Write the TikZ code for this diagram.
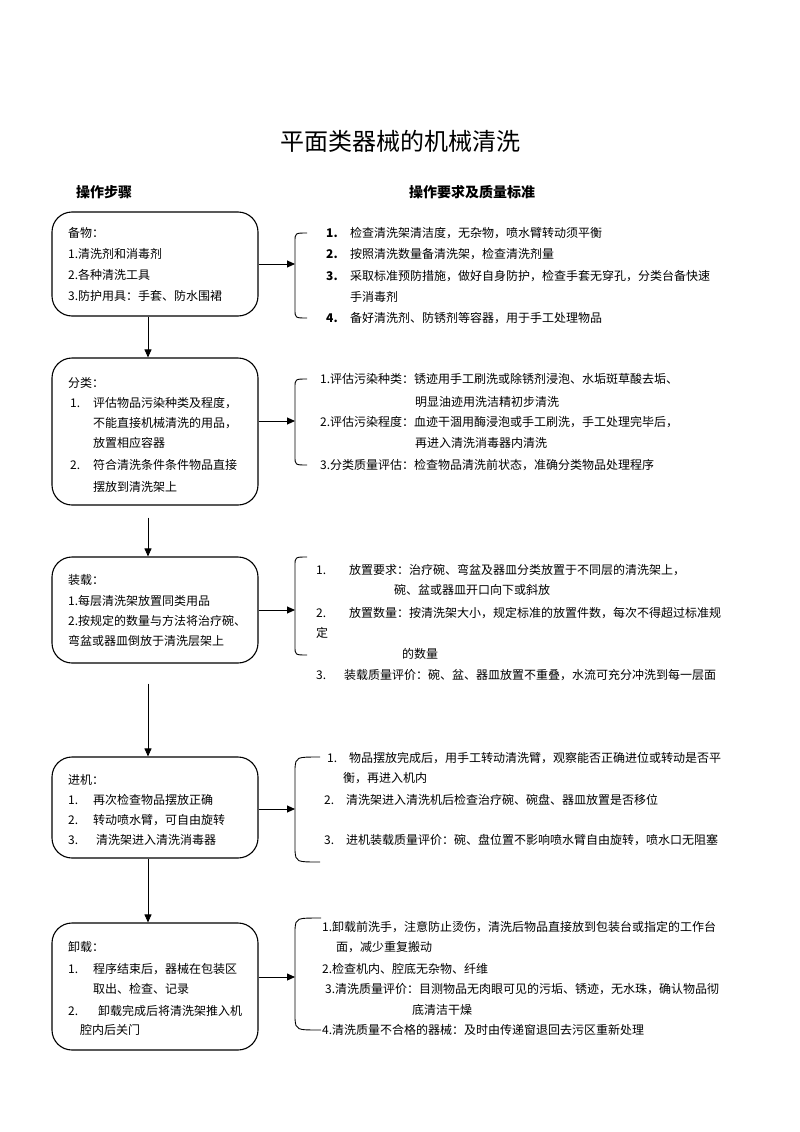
\documentclass[tikz,border=0pt]{standalone}
\usepackage{fontspec}
\setmainfont{Noto Sans CJK SC}
\usetikzlibrary{arrows.meta}
\begin{document}
\begin{tikzpicture}[x=1pt,y=-1pt,
 stepbox/.style={draw, line width=1.1pt, rounded corners=20pt, minimum width=206pt, inner sep=0pt},
 t/.style={anchor=west, inner sep=0pt, font=\fontsize{12}{14}\selectfont},
 num/.style={anchor=west, inner sep=0pt, font=\fontsize{12}{14}\selectfont\bfseries},
 arr/.style={-{Triangle[length=8pt,width=7pt]}, line width=0.9pt},
 brc/.style={line width=0.9pt},
 hdr/.style={anchor=west, inner sep=0pt, font=\fontsize{14}{16}\selectfont\bfseries},
 ttl/.style={inner sep=0pt, font=\fontsize{24}{28}\selectfont}]
\useasboundingbox[fill=white] (0,0) rectangle (800,1132);

% title and headers
\node[ttl] (title) at (400,141) {平面类器械的机械清洗};
\node[hdr] (h1) at (76,192) {操作步骤};
\node[hdr] (h2) at (409,192) {操作要求及质量标准};

% step boxes
\node[stepbox, minimum height=104pt] (b1) at (155,264) {};
\node[stepbox, minimum height=147pt] (b2) at (155,431.5) {};
\node[stepbox, minimum height=106pt] (b3) at (155,610) {};
\node[stepbox, minimum height=101pt] (b4) at (155,807.5) {};
\node[stepbox, minimum height=127pt] (b5) at (155,986.5) {};

% vertical arrows
\draw[arr] ([xshift=-7pt]b1.south) -- ([xshift=-7pt]b2.north);
\draw[arr, shorten <=12pt] ([xshift=-7pt]b2.south) -- ([xshift=-7pt]b3.north);
\draw[arr, shorten <=20pt] ([xshift=-7pt]b3.south) -- ([xshift=-7pt]b4.north);
\draw[arr] ([xshift=-7pt]b4.south) -- ([xshift=-7pt]b5.north);

% braces
\draw[brc] (307,233) .. controls (295,233) .. (295,242) -- (295,309) .. controls (295,318) .. (307,318);
\draw[brc] (307,379) .. controls (295,379) .. (295,388) -- (295,456) .. controls (295,465) .. (307,465);
\draw[brc] (307,557) .. controls (295,557) .. (295,566) -- (295,646) .. controls (295,655) .. (307,655);
\draw[brc] (320,757) .. controls (296,757) .. (295,768) -- (295,851) .. controls (296,862) .. (320,862);
\draw[brc] (321,918) .. controls (296,918) .. (295,929) -- (295,1019) .. controls (296,1030) .. (321,1030);

\coordinate (r1) at (295,264);
\coordinate (r2) at (295,421);
\coordinate (r3) at (295,610);
\coordinate (r4) at (295,809);
\coordinate (r5) at (295,977);
\draw[arr] (b1.east |- r1) -- (r1);
\draw[arr] (b2.east |- r2) -- (r2);
\draw[arr] (b3.east |- r3) -- (r3);
\draw[arr] (b4.east |- r4) -- (r4);
\draw[arr] (b5.east |- r5) -- (r5);

% box 1 text
\node[t] (b1t0) at (68,233) {备物：};
\node[t] (b1t1) at (68,254) {1.清洗剂和消毒剂};
\node[t] (b1t2) at (68,275) {2.各种清洗工具};
\node[t] (b1t3) at (68,296) {3.防护用具：手套、防水围裙};
% right 1
\node[num] (n11) at (326,233) {1.};
\node[t] (r11) at (350,233) {检查清洗架清洁度，无杂物，喷水臂转动须平衡};
\node[num] (n12) at (326,254) {2.};
\node[t] (r12) at (350,254) {按照清洗数量备清洗架，检查清洗剂量};
\node[num] (n13) at (326,276) {3.};
\node[t] (r13) at (350,276) {采取标准预防措施，做好自身防护，检查手套无穿孔，分类台备快速};
\node[t] (r13b) at (350,297) {手消毒剂};
\node[num] (n14) at (326,318) {4.};
\node[t] (r14) at (350,318) {备好清洗剂、防锈剂等容器，用于手工处理物品};

% box 2 text
\node[t] (b2t0) at (68,383) {分类：};
\node[t] (b2n1) at (70,403) {1.};
\node[t] (b2t1) at (93,403) {评估物品污染种类及程度，};
\node[t] (b2t2) at (93,423) {不能直接机械清洗的用品，};
\node[t] (b2t3) at (93,443) {放置相应容器};
\node[t] (b2n2) at (70,465) {2.};
\node[t] (b2t4) at (93,465) {符合清洗条件条件物品直接};
\node[t] (b2t5) at (93,487) {摆放到清洗架上};
% right 2
\node[t] (r21) at (320,379) {1.评估污染种类：锈迹用手工刷洗或除锈剂浸泡、水垢斑草酸去垢、};
\node[t] (r21b) at (415,402) {明显油迹用洗洁精初步清洗};
\node[t] (r22) at (320,422) {2.评估污染程度：血迹干涸用酶浸泡或手工刷洗，手工处理完毕后，};
\node[t] (r22b) at (415,443) {再进入清洗消毒器内清洗};
\node[t] (r23) at (320,465) {3.分类质量评估：检查物品清洗前状态，准确分类物品处理程序};

% box 3 text
\node[t] (b3t0) at (68,580) {装载：};
\node[t] (b3t1) at (68,601) {1.每层清洗架放置同类用品};
\node[t] (b3t2) at (68,621) {2.按规定的数量与方法将治疗碗、};
\node[t] (b3t3) at (68,641) {弯盆或器皿倒放于清洗层架上};
% right 3
\node[t] (n31) at (316,570) {1.};
\node[t] (r31) at (349,570) {放置要求：治疗碗、弯盆及器皿分类放置于不同层的清洗架上，};
\node[t] (r31b) at (394,590) {碗、盆或器皿开口向下或斜放};
\node[t] (n32) at (316,613) {2.};
\node[t] (r32) at (349,613) {放置数量：按清洗架大小，规定标准的放置件数，每次不得超过标准规};
\node[t] (r32b) at (316,633) {定};
\node[t] (r32c) at (402,654) {的数量};
\node[t] (n33) at (316,675) {3.};
\node[t] (r33) at (344,675) {装载质量评价：碗、盆、器皿放置不重叠，水流可充分冲洗到每一层面};

% box 4 text
\node[t] (b4t0) at (68,780) {进机：};
\node[t] (b4n1) at (68,800) {1.};
\node[t] (b4t1) at (93,800) {再次检查物品摆放正确};
\node[t] (b4n2) at (68,820) {2.};
\node[t] (b4t2) at (93,820) {转动喷水臂，可自由旋转};
\node[t] (b4n3) at (68,840) {3.};
\node[t] (b4t3) at (96,840) {清洗架进入清洗消毒器};
% right 4
\node[t] (n41) at (327,758) {1.};
\node[t] (r41) at (349,758) {物品摆放完成后，用手工转动清洗臂，观察能否正确进位或转动是否平};
\node[t] (r41b) at (343,778) {衡，再进入机内};
\node[t] (n42) at (324,800) {2.};
\node[t] (r42) at (346,800) {清洗架进入清洗机后检查治疗碗、碗盘、器皿放置是否移位};
\node[t] (n43) at (324,840) {3.};
\node[t] (r43) at (346,840) {进机装载质量评价：碗、盘位置不影响喷水臂自由旋转，喷水口无阻塞};

% box 5 text
\node[t] (b5t0) at (68,947) {卸载：};
\node[t] (b5n1) at (68,969) {1.};
\node[t] (b5t1) at (93,969) {程序结束后，器械在包装区};
\node[t] (b5t2) at (93,989) {取出、检查、记录};
\node[t] (b5n2) at (68,1011) {2.};
\node[t] (b5t3) at (98,1011) {卸载完成后将清洗架推入机};
\node[t] (b5t4) at (80,1030) {腔内后关门};
% right 5
\node[t] (r51) at (322,927) {1.卸载前洗手，注意防止烫伤，清洗后物品直接放到包装台或指定的工作台};
\node[t] (r51b) at (336,947) {面，减少重复搬动};
\node[t] (r52) at (322,969) {2.检查机内、腔底无杂物、纤维};
\node[t] (r53) at (325,989) {3.清洗质量评价：目测物品无肉眼可见的污垢、锈迹，无水珠，确认物品彻};
\node[t] (r53b) at (412,1010) {底清洁干燥};
\node[t] (r54) at (322,1030) {4.清洗质量不合格的器械：及时由传递窗退回去污区重新处理};
\end{tikzpicture}
\end{document}
